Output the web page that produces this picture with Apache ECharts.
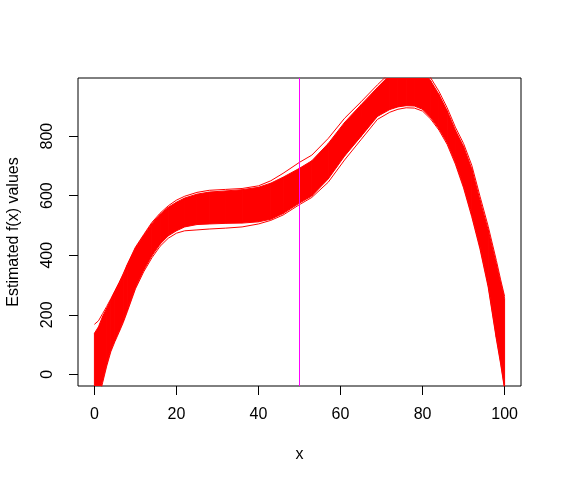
<!DOCTYPE html>
<html>
<head>
<meta charset="utf-8">
<script src="https://cdn.jsdelivr.net/npm/echarts@6/dist/echarts.min.js"></script>
<style>
  html, body { margin: 0; padding: 0; background: #fff; }
  #chart { width: 562px; height: 484px; }
</style>
</head>
<body>
<div id="chart"></div>
<script>
// x positions where the band was read
const xs = [0, 1, 2, 3, 4, 5, 6, 7, 8, 10, 12, 14, 16, 18, 20, 22, 25, 28, 32, 36, 40, 43, 46, 50,
  53, 57, 61, 65, 69, 72, 74, 76, 78, 80, 82, 84, 86, 88, 90, 92, 94, 96, 98, 99, 100];
// top and bottom of the red band of estimated curves
const upper = [138, 160, 195, 222, 250, 278, 305, 334, 366, 424, 466, 506, 537, 561, 578, 592, 605, 612, 616, 620, 628, 642, 662, 692,
  717, 775, 846, 905, 963, 1005, 1035, 1050, 1048, 1025, 985, 940, 885, 820, 765, 690, 585, 485, 370, 310, 255];
const lower = [-130, -75, -20, 35, 82, 115, 146, 178, 215, 292, 350, 398, 437, 465, 482, 495, 503, 505, 507, 508, 512, 521, 540, 575,
  599, 656, 733, 799, 866, 889, 898, 902, 901, 890, 862, 825, 778, 712, 632, 535, 428, 300, 125, 45, -45];
// a few stray curves just outside the band
const hiStrand = [168, 180, 204, 228, 254, 281, 308, 337, 369, 427, 469, 510, 541, 566, 585, 598, 611, 618, 621, 624, 633, 650, 675, 712,
  736, 792, 860, 915, 972, 1012, 1040, 1055, 1056, 1035, 995, 950, 895, 830, 775, 702, 598, 497, 382, 320, 262];
const loStrand = [-140, -85, -28, 28, 76, 110, 141, 173, 210, 287, 344, 391, 430, 457, 474, 482, 485, 488, 491, 495, 505, 517, 535, 570,
  594, 645, 720, 788, 856, 880, 890, 895, 894, 884, 857, 820, 772, 706, 626, 529, 421, 293, 118, 38, -50];
const xTicks = [0, 20, 40, 60, 80, 100];
const yTicks = [0, 200, 400, 600, 800];
const vLine = 50;

const font = 'Liberation Sans, Arial, sans-serif';
const chart = echarts.init(document.getElementById('chart'), null, { renderer: 'canvas' });

const pairs = arr => xs.map((x, i) => [x, arr[i]]);

chart.setOption({
  animation: false,
  backgroundColor: '#fff',
  grid: {
    left: 78, top: 78, right: 41, bottom: 98,
    outerBoundsMode: 'none',
    show: true, borderColor: '#000', borderWidth: 1, backgroundColor: 'transparent'
  },
  xAxis: {
    type: 'value', min: -4, max: 104,
    name: 'x', nameLocation: 'middle', nameGap: 61,
    nameTextStyle: { fontSize: 16, color: '#000', fontFamily: font },
    axisLine: { show: false, onZero: false },
    splitLine: { show: false },
    axisTick: { show: true, inside: false, length: 9, customValues: xTicks, lineStyle: { color: '#000', width: 1 } },
    axisLabel: { customValues: xTicks, margin: 21, fontSize: 16, color: '#000', fontFamily: font }
  },
  yAxis: {
    type: 'value', min: -39, max: 995,
    name: 'Estimated f(x) values', nameLocation: 'middle', nameGap: 56, nameRotate: 90,
    nameTextStyle: { fontSize: 16, color: '#000', fontFamily: font },
    axisLine: { show: false, onZero: false },
    splitLine: { show: false },
    axisTick: { show: true, inside: false, length: 9, customValues: yTicks, lineStyle: { color: '#000', width: 1 } },
    axisLabel: { customValues: yTicks, rotate: 90, margin: 22, fontSize: 16, color: '#000', fontFamily: font }
  },
  series: [
    {
      type: 'custom',
      clip: true,
      z: 2,
      data: xs.map((x, i) => [x, lower[i], upper[i]]),
      encode: { x: 0, y: [1, 2] },
      renderItem: function (params, api) {
        const i = params.dataIndex;
        if (i >= xs.length - 1) return;
        const pts = [
          api.coord([xs[i], upper[i]]),
          api.coord([xs[i + 1], upper[i + 1]]),
          api.coord([xs[i + 1], lower[i + 1]]),
          api.coord([xs[i], lower[i]])
        ];
        return {
          type: 'polygon',
          shape: { points: pts },
          style: { fill: '#ff0000', stroke: '#ff0000', lineWidth: 1 }
        };
      }
    },
    {
      type: 'line', data: pairs(hiStrand), showSymbol: false, symbol: 'none', z: 3,
      lineStyle: { color: '#ff0000', width: 1 }
    },
    {
      type: 'line', data: pairs(loStrand), showSymbol: false, symbol: 'none', z: 3,
      lineStyle: { color: '#ff0000', width: 1 },
      markLine: {
        silent: true, symbol: ['none', 'none'], label: { show: false },
        lineStyle: { color: '#ff00ff', type: 'solid', width: 1 },
        data: [{ xAxis: vLine }]
      }
    }
  ]
});
</script>
</body>
</html>
